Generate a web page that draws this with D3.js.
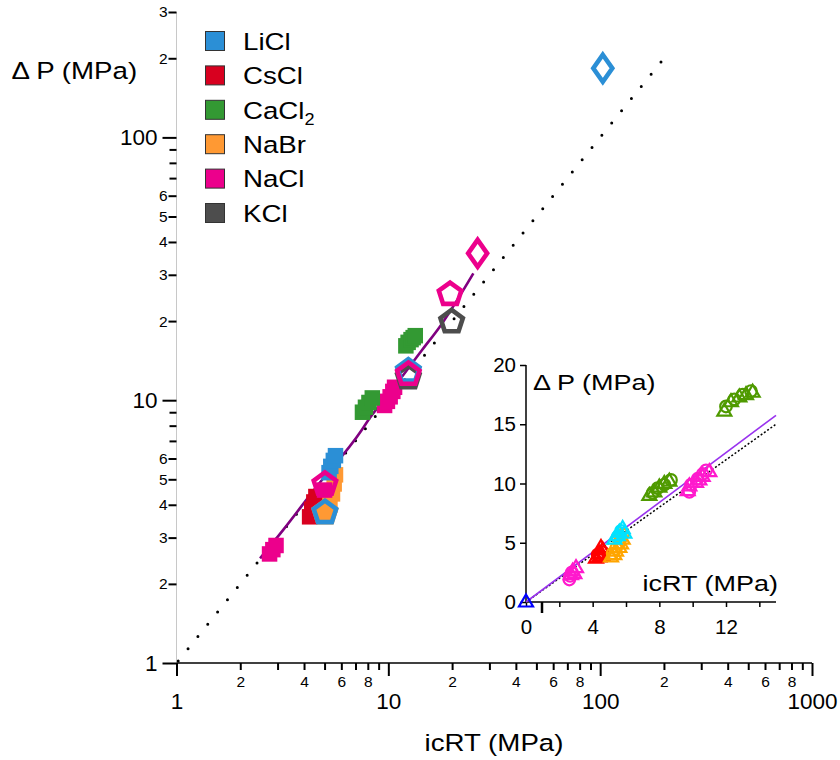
<!DOCTYPE html>
<html><head><meta charset="utf-8">
<script src="https://cdn.jsdelivr.net/npm/d3@7"></script>
<style>body{margin:0;background:#fff} text{font-family:"Liberation Sans",Arial,sans-serif;fill:#000}</style>
</head><body><svg id="c" width="840" height="760"></svg>
<script>
// ---------- data ----------
const salts = ["LiCl","CsCl","CaCl2","NaBr","NaCl","KCl"];
const saltColors = ["#2b8fd6","#d8001f","#339933","#ff9933","#ec008c","#4d4d4d"];

// filled squares (icRT, ΔP) in MPa
const sqCsCl = [[4.25,3.6],[4.35,3.85],[4.45,4.1],[4.55,4.3]];
const sqNaBr = [[5.3,4.0],[5.45,4.4],[5.55,4.8],[5.63,5.2]];
const sqLiCl = [[5.25,5.3],[5.35,5.6],[5.5,5.9],[5.63,6.15]];
const sqNaCl = [[2.75,2.6],[2.85,2.7],[2.95,2.8],[5.0,4.55],[9.6,9.55],[9.9,9.9],[10.2,10.3],[10.5,10.8],[10.7,11.2]];
const sqCaCl2 = [[7.55,9.0],[7.8,9.4],[8.1,9.8],[8.4,10.2],[12.1,16.1],[12.4,16.6],[12.8,17.0],[13.1,17.3],[13.4,17.6]];

// open pentagons
const pentSalt = ["NaBr","LiCl","NaCl","KCl","LiCl","NaCl","KCl","NaCl"];
const pentX    = [5.02, 5.02, 5.02, 12.43, 12.43, 12.43, 19.9, 19.56];
const pentY    = [3.77, 3.77, 4.83, 12.3, 13.03, 12.66, 20.07, 25.5];
const pentFilled = [true,false,false,false,false,false,false,false];

// open diamonds
const diaSalt = ["NaCl","LiCl"];
const diaX = [26.4, 102.9];
const diaY = [36.2, 183.2];

// fitted curve (purple)
const fitX = [2.48, 3.19, 4.5, 7.49, 8.05, 10.0, 14.4, 17.5, 25.2];
const fitY = [2.5, 3.21, 4.6, 7.70, 8.41, 10.5, 15.5, 19.05, 30.4];
// identity line
const identX = [1, 195];
const identY = [1, 195];

// main axis ticks
const xMajor = [1,10,100,1000];
const xMajorLabels = ["1","10","100","1000"];
const xMinor = [2,3,4,5,6,7,8,9,20,30,40,50,60,70,80,90,200,300,400,500,600,700,800,900];
const xMinorLabels = ["2","","4","","6","","8","","2","","4","","6","","8","","2","","4","","6","","8",""];
const yMajor = [1,10,100];
const yMajorLabels = ["1","10","100"];
const yMinor = [2,3,4,5,6,20,30,40,50,60,200,300];
const yMinorLabels = ["2","3","4","5","6","2","3","4","5","6","2","3"];
const yMinorUnlabeled = [7,8,9,70,80,90];

// inset data
const insetColors = ["#ff1acd","#ff0000","#ffa500","#00e2ff","#4f9a00","#0000ff"];
const triNaCl = [[2.8,2.6],[2.9,2.4],[3.0,2.9],[2.7,2.3],[9.7,9.4],[9.8,9.8],[10.2,10.1],[10.6,10.6],[11.0,11.0],[10.4,10.3]];
const cirNaCl = [[2.6,1.9],[2.65,2.2],[2.75,2.5],[9.9,9.9],[10.3,10.4],[10.6,10.8],[10.8,11.1],[9.8,9.3]];
const triCsCl = [[4.2,3.7],[4.4,3.8],[4.6,3.9],[4.4,4.1],[4.6,4.4],[4.5,4.6]];
const cirCsCl = [[4.4,3.9],[4.6,4.2],[4.3,4.0]];
const triNaBr = [[5.1,3.8],[5.3,4.0],[5.4,4.3],[5.6,4.6],[5.7,4.9],[5.8,5.3]];
const cirNaBr = [[5.2,4.1],[5.4,4.5],[5.6,5.0],[5.7,5.4],[5.8,5.7]];
const triLiCl = [[5.3,5.3],[5.5,5.6],[5.6,5.9],[5.8,6.2],[5.9,5.8]];
const cirLiCl = [[5.5,5.5],[5.7,6.0]];
const triCaCl2 = [[7.4,9.0],[7.7,9.3],[8.0,9.7],[8.3,10.0],[8.6,10.2],[11.9,16.1],[12.3,16.9],[12.8,17.3],[13.2,17.5],[13.6,17.7]];
const cirCaCl2 = [[7.6,9.2],[7.9,9.6],[8.3,9.9],[8.7,10.3],[12.0,16.5],[12.5,17.1],[13.0,17.5],[13.5,17.8]];
const triZero = [[0,0]];
const insetFitX = [0, 15];
const insetFitY = [0, 15.75];
const insetIdentX = [0, 15];
const insetIdentY = [0, 15];
const ixTicks = [0,2,4,6,8,10,12,14];
const ixLabels = ["0","","4","","8","","12",""];
const iyTicks = [0,5,10,15,20];
const iyLabels = ["0","5","10","15","20"];
const iBreakTick = [0.93];

// ---------- drawing ----------
const svg = d3.select("#c");
const col = s => saltColors[salts.indexOf(s)];
const X = d3.scaleLog().domain([1,1000]).range([176.5,812]);
const Y = d3.scaleLog().domain([1,300]).range([663,12]);

function styleAxis(g, fs){
  g.select(".domain").remove();
  g.selectAll(".tick line").attr("stroke","#000").attr("stroke-width",2);
  g.selectAll(".tick text").attr("font-size",fs).attr("font-family","Liberation Sans, Arial, sans-serif").attr("fill","#000");
}
function stretched(parent, x, y, str, size, anchor, sx){
  return parent.append("text").attr("transform",`translate(${x},${y}) scale(${sx},1)`)
    .attr("font-size",size).attr("text-anchor",anchor).text(str);
}

// y axis line (light grey)
svg.append("line").attr("x1",X(1)).attr("x2",X(1)).attr("y1",Y(300)).attr("y2",Y(1))
  .attr("stroke","#c8c8c8").attr("stroke-width",1);
// x axis line
svg.append("line").attr("x1",X(1)).attr("x2",X(1000)).attr("y1",Y(1)).attr("y2",Y(1))
  .attr("stroke","#000").attr("stroke-width",1.5);

// x axes
svg.append("g").attr("transform",`translate(0,${Y(1)})`)
  .call(d3.axisBottom(X).tickValues(xMinor).tickSize(7).tickPadding(6).tickFormat((d,i)=>xMinorLabels[i]))
  .call(g=>styleAxis(g,15.5));
svg.append("g").attr("transform",`translate(0,${Y(1)})`)
  .call(d3.axisBottom(X).tickValues(xMajor).tickSize(13).tickPadding(17).tickFormat((d,i)=>xMajorLabels[i]))
  .call(g=>styleAxis(g,22.5));
// y axes
svg.append("g").attr("transform",`translate(${X(1)},0)`)
  .call(d3.axisLeft(Y).tickValues(yMinorUnlabeled).tickSize(7).tickFormat(""))
  .call(g=>styleAxis(g,15.5));
svg.append("g").attr("transform",`translate(${X(1)},0)`)
  .call(d3.axisLeft(Y).tickValues(yMinor).tickSize(8).tickPadding(1).tickFormat((d,i)=>yMinorLabels[i]))
  .call(g=>styleAxis(g,15.5));
svg.append("g").attr("transform",`translate(${X(1)},0)`)
  .call(d3.axisLeft(Y).tickValues(yMajor).tickSize(14).tickPadding(5).tickFormat((d,i)=>yMajorLabels[i]))
  .call(g=>styleAxis(g,22.5));

// titles
stretched(svg, 11.5, 79, "\u0394 P (MPa)", 24.5, "start", 1.13);
stretched(svg, 494, 751, "icRT (MPa)", 24.5, "middle", 1.13);

// identity dotted line
const lineMain = d3.line().x(d=>X(d[0])).y(d=>Y(d[1]));
svg.append("path").attr("d", lineMain(identX.map((v,i)=>[v,identY[i]])))
  .attr("fill","none").attr("stroke","#000").attr("stroke-width",3)
  .attr("stroke-linecap","round").attr("stroke-dasharray","0 15.7").attr("stroke-dashoffset",-2.7);

// purple fit curve
svg.append("path").attr("d", d3.line().x(d=>X(d[0])).y(d=>Y(d[1])).curve(d3.curveMonotoneX)(fitX.map((v,i)=>[v,fitY[i]])))
  .attr("fill","none").attr("stroke","#800080").attr("stroke-width",2.6);

// squares
const sq = 15.5;
[[sqCsCl,"CsCl"],[sqNaBr,"NaBr"],[sqLiCl,"LiCl"],[sqNaCl,"NaCl"],[sqCaCl2,"CaCl2"]].forEach(([arr,s])=>{
  svg.append("g").selectAll("rect").data(arr).join("rect")
    .attr("x",d=>X(d[0])-sq/2).attr("y",d=>Y(d[1])-sq/2).attr("width",sq).attr("height",sq)
    .attr("fill",col(s));
});

// pentagons
const R = 11.8;
const pentPath = d3.range(5).map(k=>{const a=-Math.PI/2+k*2*Math.PI/5; return [R*Math.cos(a), R*Math.sin(a)+1];});
const pentD = "M"+pentPath.map(p=>p.join(",")).join("L")+"Z";
svg.append("g").selectAll("path").data(pentX.map((v,i)=>i)).join("path")
  .attr("d",pentD).attr("transform",i=>`translate(${X(pentX[i])},${Y(pentY[i])})`)
  .attr("fill",i=>pentFilled[i]?col(pentSalt[i]):"none")
  .attr("stroke",i=>col(pentSalt[i])).attr("stroke-width",4.6).attr("stroke-linejoin","miter");

// diamonds
const diaD = "M0,-13.5L9.5,0L0,13.5L-9.5,0Z";
svg.append("g").selectAll("path").data(diaX.map((v,i)=>i)).join("path")
  .attr("d",diaD).attr("transform",i=>`translate(${X(diaX[i])},${Y(diaY[i])})`)
  .attr("fill","none").attr("stroke",i=>col(diaSalt[i])).attr("stroke-width",4.6);

// legend
const lg = svg.append("g");
salts.forEach((s,i)=>{
  const cy = 41 + i*34.4;
  lg.append("rect").attr("x",205.5).attr("y",cy-9.5).attr("width",19).attr("height",19)
    .attr("fill",saltColors[i]).attr("stroke","#333").attr("stroke-width",1);
  const t = lg.append("text").attr("transform",`translate(243,${cy+8.8}) scale(1.13,1)`).attr("font-size",24.5);
  if(s==="CaCl2"){ t.text("CaCl"); t.append("tspan").attr("font-size",16).attr("dy",6).text("2"); }
  else t.text(s);
});

// ---------- inset ----------
const XI = d3.scaleLinear().domain([0,15]).range([526,776]);
const YI = d3.scaleLinear().domain([0,20]).range([602,365]);
const gi = svg.append("g");
gi.append("line").attr("x1",XI(0)).attr("x2",XI(15)).attr("y1",YI(0)).attr("y2",YI(0)).attr("stroke","#000").attr("stroke-width",1.5);
gi.append("line").attr("x1",XI(0)).attr("x2",XI(0)).attr("y1",YI(0)).attr("y2",YI(20)).attr("stroke","#000").attr("stroke-width",1.5);
gi.append("g").attr("transform",`translate(0,${YI(0)})`)
  .call(d3.axisBottom(XI).tickValues(ixTicks).tickSize(5).tickPadding(12).tickFormat((d,i)=>ixLabels[i]))
  .call(g=>styleAxis(g,20.5)).call(g=>g.selectAll(".tick line").attr("stroke-width",1.5));
gi.append("g").attr("transform",`translate(0,${YI(0)})`)
  .call(d3.axisBottom(XI).tickValues(iBreakTick).tickSize(11).tickFormat(""))
  .call(g=>styleAxis(g,20)).call(g=>g.selectAll(".tick line").attr("stroke-width",2.5));
gi.append("g").attr("transform",`translate(${XI(0)},0)`)
  .call(d3.axisLeft(YI).tickValues(iyTicks).tickSize(6).tickPadding(4).tickFormat((d,i)=>iyLabels[i]))
  .call(g=>styleAxis(g,20.5)).call(g=>g.selectAll(".tick line").attr("stroke-width",1.5));

stretched(gi, 533, 390, "\u0394 P (MPa)", 22.5, "start", 1.2);
stretched(gi, 778, 591, "icRT (MPa)", 22.5, "end", 1.2);

const lineI = d3.line().x(d=>XI(d[0])).y(d=>YI(d[1]));
gi.append("path").attr("d", lineI(insetIdentX.map((v,i)=>[v,insetIdentY[i]])))
  .attr("fill","none").attr("stroke","#000").attr("stroke-width",1.5).attr("stroke-dasharray","2 2");
gi.append("path").attr("d", lineI(insetFitX.map((v,i)=>[v,insetFitY[i]])))
  .attr("fill","none").attr("stroke","#9933ee").attr("stroke-width",1.6);

const triD = "M0,-7.5L7,4.5L-7,4.5Z";
function drawTri(arr,c){ gi.append("g").selectAll("path").data(arr).join("path").attr("d",triD)
  .attr("transform",d=>`translate(${XI(d[0])},${YI(d[1])})`).attr("fill","none").attr("stroke",c).attr("stroke-width",2.2); }
function drawCir(arr,c){ gi.append("g").selectAll("circle").data(arr).join("circle").attr("r",5.8)
  .attr("cx",d=>XI(d[0])).attr("cy",d=>YI(d[1])).attr("fill","none").attr("stroke",c).attr("stroke-width",2.2); }
drawTri(triNaCl,insetColors[0]); drawCir(cirNaCl,insetColors[0]);
drawTri(triCsCl,insetColors[1]); drawCir(cirCsCl,insetColors[1]);
drawTri(triNaBr,insetColors[2]); drawCir(cirNaBr,insetColors[2]);
drawTri(triLiCl,insetColors[3]); drawCir(cirLiCl,insetColors[3]);
drawTri(triCaCl2,insetColors[4]); drawCir(cirCaCl2,insetColors[4]);
drawTri(triZero,insetColors[5]);
</script></body></html>
